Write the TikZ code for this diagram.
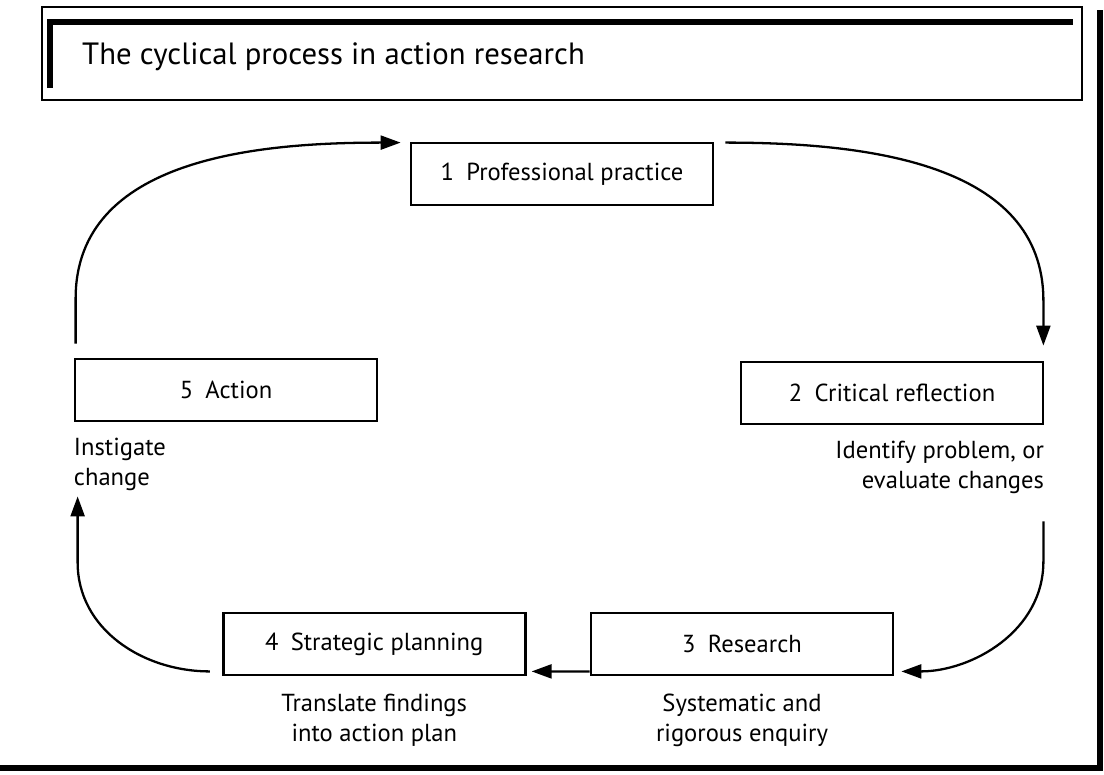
\documentclass[tikz,border=0pt]{standalone}
\usepackage{fontspec}
\setmainfont{PT Sans}
\usetikzlibrary{arrows.meta}
\usetikzlibrary{positioning}

\begin{document}
\begin{tikzpicture}[x=0.02cm,y=-0.02cm,
		stage/.style={rectangle,draw=black,line width=1.6pt,minimum width=6.04cm,minimum height=1.24cm,font=\fontsize{14}{17}\selectfont},
		note/.style={inner sep=0pt,font=\fontsize{14}{17}\selectfont},
		cycle/.style={line width=1.3pt,-{Triangle[length=4mm,width=2.8mm]}}]

		\useasboundingbox (0,0) rectangle (1104,774);

		% Frame and title
		\draw [line width=0.6pt] (42,7) rectangle (1082,100);
		\draw [line width=3pt] (50,88) -- (50,22) -- (1073,22);
		\node [anchor=west,font=\fontsize{17.5}{20}\selectfont] (title) at (76,57) {The cyclical process in action research};
		\draw [line width=3pt] (1100,10) -- (1100,768) -- (0,768);

		% Stages of the cycle
		\node [stage] (p1) at (562,174) {1\enspace Professional practice};
		\node [stage] (p2) at (892,393) {2\enspace Critical reflection};
		\node [stage] (p3) at (742,644) {3\enspace Research};
		\node [stage, left=1.26cm of p3] (p4) {4\enspace Strategic planning};
		\node [stage] (p5) at (226,390) {5\enspace Action};

		% Notes under the stages
		\node [note, below left=0.3cm and 0cm of p2.south east, align=right] (n2) {Identify problem, or\\evaluate changes};
		\node [note, below=0.35cm of p3, align=center] (n3) {Systematic and\\rigorous enquiry};
		\node [note, below=0.35cm of p4, align=center] (n4) {Translate findings\\into action plan};
		\node [note, below right=0.3cm and 0cm of p5.south west, align=left] (n5) {Instigate\\change};

		% Arrows round the cycle
		\draw [cycle] ([shift={(2,-14)}]p5.north west) -- ++(0,-45) to [out=90,in=180] ([shift={(-9,1)}]p1.north west); % 5 to 1
		\draw [cycle] ([shift={(11,1)}]p1.north east) to [out=0,in=90] ([shift={(-1,-60)}]p2.north east) -- ([shift={(-1,-15)}]p2.north east); % 1 to 2
		\draw [cycle] ([shift={(-1,96)}]p2.south east) -- ++(0,40) to [out=-90,in=0] ([shift={(7,-5)}]p3.south east); % 2 to 3
		\draw [cycle] ([yshift=0.1cm]p3.south west) -- ([shift={(5,-5)}]p4.south east); % 3 to 4
		\draw [cycle] ([shift={(-12,-5)}]p4.south west) to [out=180,in=-90] ([shift={(4,140)}]p5.south west) -- ([shift={(4,74)}]p5.south west); % 4 to 5
\end{tikzpicture}
\end{document}
